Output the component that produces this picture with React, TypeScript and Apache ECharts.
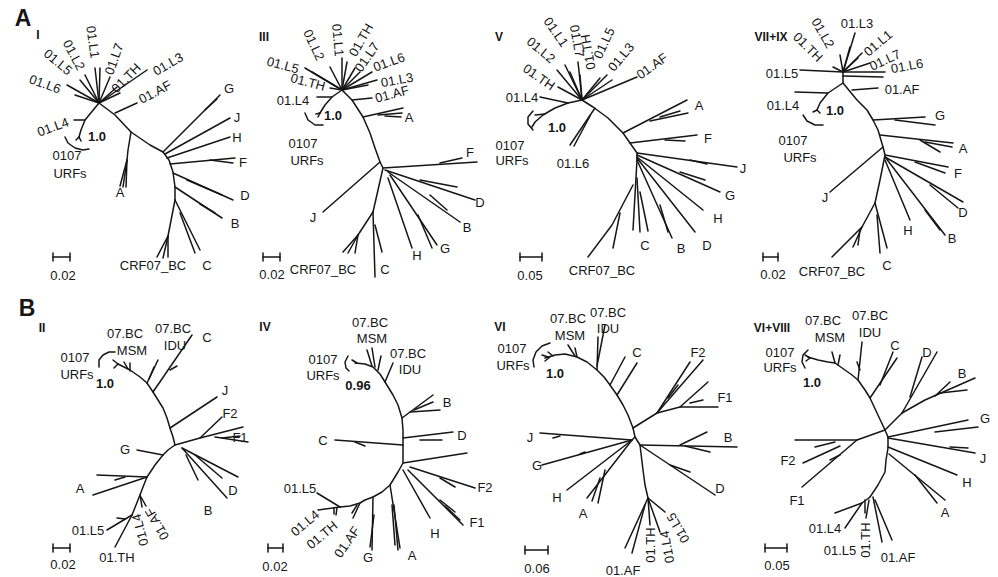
import React, { useEffect, useRef } from "react";
import * as echarts from "echarts";

type Pt = [number, number];
type Edge = Pt[];
// [text, x, y, rotationDeg (counter-clockwise), kind: 0 normal, 1 bold support, 2 panel title, 3 big letter]
type Label = [string, number, number, number?, number?];

// ---------- Panel A / I ----------
const edgesI: Edge[] = [
  [[99,103],[115,115],[131,132],[150,145],[163,152],[169,160],[173,172],[175,187],[175,200]],
  [[99,103],[67,85]],[[99,103],[75,95]],[[99,103],[80,80]],[[99,103],[85,75]],[[99,103],[95,68]],[[99,103],[100,68]],[[99,103],[110,77]],[[99,103],[117,87]],[[99,103],[147,70]],[[99,103],[120,93]],
  [[115,113],[137,103]],
  [[99,103],[85,120],[81,130],[79,137]],[[79,137],[76,140]],[[79,137],[81,141]],[[85,120],[74,120]],
  [[65,137],[68,143],[75,148],[83,150],[89,149]],
  [[131,132],[128,150],[127,160],[120,186]],[[127,160],[123,187]],[[127,160],[126,187]],
  [[163,152],[220,95]],[[205,110],[217,99]],
  [[165,154],[230,118]],
  [[167,158],[230,137]],
  [[170,164],[235,158]],[[210,160],[233,163]],
  [[173,173],[233,200]],[[187,180],[222,195]],
  [[175,187],[222,218]],[[200,204],[215,213]],
  [[175,200],[200,250]],[[180,213],[195,253]],
  [[175,200],[168,236]],[[168,236],[157,257]],[[168,236],[163,258]],[[168,236],[168,257]],
];
const labelsI: Label[] = [
  ["A",23,18,0,3],["I",38,35,0,2],
  ["01.L6",45,84,-20],["01.L5",58,62,-40],["01.L2",74,55,-62],["01.L1",93,42,-82],["01.L7",114,59,70],["01.TH",126,78,45],["01.L3",168,64,30],["01.AF",155,92,28],["01.L4",53,127,20],
  ["1.0",97,136,0,1],["0107",67,155],["URFs",70,173],
  ["G",229,88],["J",237,117],["H",237,137],["F",243,162],["D",245,195],["B",235,223],["C",207,265],["CRF07_BC",153,265],["A",120,192],["0.02",63,275],
];

// ---------- Panel III ----------
const edgesIII: Edge[] = [
  [[342,90],[352,100],[363,117],[370,133],[375,148],[380,162],[383,168],[378,190],[373,212]],
  [[342,90],[305,68]],[[342,90],[312,72]],[[342,90],[330,67]],[[342,90],[342,58]],[[342,90],[347,62]],[[342,90],[355,68]],[[342,90],[360,72]],[[342,90],[372,72]],[[342,90],[377,80]],[[342,90],[330,88]],[[342,90],[368,85]],
  [[352,100],[372,98]],
  [[342,90],[332,97],[325,105],[320,113]],[[320,113],[316,114]],[[320,113],[318,117]],[[332,97],[317,97]],
  [[305,113],[308,120],[315,125],[323,125]],
  [[363,117],[403,108]],[[378,115],[402,113]],[[385,116],[401,117]],
  [[380,162],[323,212]],
  [[383,168],[477,162]],[[440,163],[462,158]],
  [[385,170],[475,200]],[[420,180],[457,187]],
  [[388,172],[460,222]],[[430,195],[447,210]],
  [[390,175],[437,245]],[[418,215],[432,248]],
  [[388,178],[412,248]],
  [[373,212],[375,277]],[[375,225],[382,252]],
  [[373,212],[358,235]],[[358,235],[343,252]],[[358,235],[348,253]],[[358,235],[355,253]],
];
const labelsIII: Label[] = [
  ["III",264,37,0,2],["01.L5",283,65,-15],["01.L2",314,45,-65],["01.L1",338,40,-85],["01.TH",361,40,60],["01.L7",367,57,55],["01.L6",389,62,20],["01.L3",397,80,10],["01.TH",308,82,-15],["01.AF",392,94,15],["01.L4",293,100,0],
  ["1.0",333,115,0,1],["0107",303,143],["URFs",307,160],
  ["A",409,117],["F",470,152],["D",480,202],["B",467,227],["G",445,248],["H",417,255],["J",313,217],["C",385,269],["CRF07_BC",323,269],["0.02",272,274],
];

// ---------- Panel V ----------
const edgesV: Edge[] = [
  [[582,100],[593,107],[608,118],[623,133],[630,143],[637,153],[637,160]],
  [[582,100],[557,70]],[[582,100],[565,65]],[[582,100],[570,72]],[[582,100],[578,62]],[[582,100],[580,75]],[[582,100],[600,78]],[[582,100],[607,75]],[[582,100],[612,80]],[[582,100],[637,77]],[[582,100],[558,87]],
  [[582,100],[568,103],[555,108],[543,115],[535,122],[532,127]],[[568,103],[540,97]],[[545,114],[535,115]],
  [[533,111],[528,117],[528,124],[533,130]],
  [[595,108],[570,145]],[[590,116],[574,146]],
  [[623,133],[687,100]],[[650,121],[688,113]],[[660,117],[680,111]],
  [[630,143],[697,135]],[[665,140],[685,141]],
  [[637,153],[737,167]],[[690,160],[707,164]],
  [[637,155],[720,192]],[[680,172],[705,180]],
  [[637,157],[703,210]],
  [[637,158],[695,232]],
  [[637,160],[672,238]],[[660,205],[668,232]],
  [[637,160],[633,230]],[[637,178],[640,232]],[[640,192],[648,231]],
  [[633,185],[612,225],[588,257]],[[620,213],[613,248]],
];
const labelsV: Label[] = [
  ["V",499,37,0,2],["01.L2",541,50,-40],["01.L1",556,32,-55],["01.L7",577,41,-80],["01.TH",588,52,100],["01.L5",604,43,65],["01.L3",621,57,50],["01.AF",652,66,35],["01.TH",539,77,-35],["01.L4",522,97,0],
  ["1.0",557,127,0,1],["0107",510,145],["URFs",512,160],["01.L6",573,163],
  ["A",699,105],["F",708,138],["J",743,168],["G",730,195],["H",718,218],["D",707,245],["B",681,248],["C",645,245],["CRF07_BC",602,270],["0.05",530,275],
];

// ---------- Panel VII+IX ----------
const edgesVII: Edge[] = [
  [[843,72],[843,83],[857,100],[867,110],[873,120],[878,130],[883,147],[885,155],[880,180],[875,203]],
  [[843,72],[855,33]],[[843,72],[850,47]],[[843,72],[840,55]],[[843,72],[833,67]],[[843,72],[800,70]],[[843,72],[862,53]],[[843,72],[858,58]],[[843,72],[870,63]],[[843,72],[885,72]],[[843,76],[883,77]],
  [[852,90],[878,88]],
  [[843,83],[828,93],[820,103],[817,110]],[[817,110],[813,112]],[[817,110],[820,113]],[[828,93],[795,92]],
  [[803,115],[807,121],[815,125],[823,125]],
  [[873,120],[925,117]],[[895,120],[935,125]],
  [[880,135],[953,143]],[[920,140],[940,152]],[[925,142],[952,147]],
  [[885,155],[948,167]],[[915,162],[945,173]],
  [[885,157],[963,202]],[[930,185],[958,208]],
  [[885,157],[945,235]],[[925,210],[940,230]],
  [[885,160],[910,220]],
  [[883,147],[830,192]],
  [[875,203],[887,248]],[[877,215],[880,253]],
  [[875,203],[862,227],[832,257]],[[862,227],[853,247]],[[860,230],[858,245]],
];
const labelsVII: Label[] = [
  ["VII+IX",771,37,0,2],["01.L3",857,23],["01.L2",823,33,-60],["01.TH",808,47,-45],["01.L5",782,73],["01.L1",878,43,40],["01.L7",885,60,25],["01.L6",907,66,10],["01.AF",902,89],["01.L4",783,105],
  ["1.0",835,110,0,1],["0107",793,140],["URFs",800,157],
  ["G",940,115],["A",963,148],["F",958,173],["D",963,212],["B",952,238],["H",908,230],["J",825,197],["C",887,265],["CRF07_BC",832,271],["0.02",773,274],
];

// ---------- Panel B / II ----------
const edgesII: Edge[] = [
  [[118,364],[130,370],[140,377],[147,383],[153,392],[158,400],[163,408],[167,418],[170,428],[173,437],[175,445],[168,450],[163,455],[155,465],[147,477],[143,487],[140,495],[136,505],[132,515]],
  [[118,364],[113,360]],[[118,364],[114,368]],
  [[128,369],[124,362]],[[130,371],[130,363]],
  [[99,367],[99,360],[103,355],[109,352],[115,352]],
  [[147,383],[158,360]],[[149,379],[154,367]],
  [[153,392],[192,335]],[[170,370],[177,366]],
  [[170,428],[217,397]],
  [[175,445],[200,438],[222,417]],
  [[200,438],[243,427]],[[215,437],[248,442]],[[222,438],[240,436]],
  [[182,448],[238,477]],[[195,455],[222,478]],
  [[182,448],[227,498]],[[186,455],[198,480]],
  [[163,455],[137,450]],
  [[147,477],[97,475]],[[147,477],[93,495]],[[125,477],[115,480]],
  [[132,515],[107,530]],[[125,519],[117,518]],
  [[132,515],[115,547]],
  [[140,495],[142,507]],[[141,497],[146,506]],
];
const labelsII: Label[] = [
  ["B",27,308,0,3],["II",42,328,0,2],["07.BC",125,333],["MSM",132,350],["07.BC",173,328],["IDU",175,345],["0107",75,357],["URFs",77,374],["1.0",105,383,0,1],
  ["C",207,337],["J",225,390],["F2",230,413],["F1",240,437],["D",233,490],["B",208,510],["G",125,449],["A",80,488],
  ["01.L5",88,530],["01.TH",117,557],["01.L4",140,530,105],["01.AF",157,524,120],["0.02",63,564],
];

// ---------- Panel IV ----------
const edgesIV: Edge[] = [
  [[355,363],[365,364],[373,367],[380,374],[385,382],[393,395],[398,405],[402,418],[403,430],[403,445],[403,463],[398,472],[390,485],[382,492],[373,497],[365,500],[360,503],[350,506],[340,507]],
  [[357,363],[352,360]],
  [[372,366],[367,350]],[[375,367],[372,348]],[[378,370],[381,356]],
  [[348,356],[345,362],[346,368],[349,371]],
  [[385,382],[393,363]],
  [[402,418],[433,395]],[[410,412],[440,410]],[[414,410],[433,402]],
  [[403,438],[453,432]],[[420,440],[442,440]],
  [[403,445],[335,440]],[[355,442],[365,446]],
  [[403,463],[467,453]],
  [[410,467],[475,488]],[[440,478],[455,487]],
  [[408,470],[463,525]],[[440,500],[455,512]],[[445,506],[460,520]],
  [[403,470],[430,518]],
  [[390,485],[400,548]],[[394,505],[398,550]],[[392,505],[395,545]],
  [[373,497],[372,550]],[[374,515],[370,547]],
  [[360,503],[353,518]],[[357,505],[352,513]],
  [[340,507],[317,493]],[[340,507],[318,510]],[[337,508],[336,515]],[[334,508],[334,514]],
];
const labelsIV: Label[] = [
  ["IV",265,327,0,2],["07.BC",370,322],["MSM",372,338],["07.BC",408,353],["IDU",410,369],["0107",323,359],["URFs",323,375],["0.96",358,385,0,1],
  ["B",447,402],["D",462,435],["C",323,440],["F2",485,487],["F1",477,522],["H",435,533],["A",412,555],["G",368,557],
  ["01.L5",300,488],["01.L4",305,523,40],["01.TH",322,535,40],["01.AF",347,542,55],["0.02",275,566],
];

// ---------- Panel VI ----------
const edgesVI: Edge[] = [
  [[545,358],[555,355],[565,354],[577,357],[587,362],[597,370],[604,377],[610,385],[617,395],[623,405],[628,415],[633,428],[635,437],[640,445],[643,470],[645,485],[648,498]],
  [[548,357],[542,355]],[[550,357],[545,361]],[[553,356],[548,352]],
  [[575,356],[568,345]],[[577,357],[575,348]],
  [[550,343],[542,346],[536,352],[533,360],[534,367]],
  [[597,370],[598,337]],[[597,366],[605,325]],
  [[610,385],[625,357]],[[617,395],[637,363]],
  [[633,428],[657,413],[690,362]],[[657,413],[703,360]],[[668,398],[678,385]],
  [[657,413],[680,407],[708,382]],[[680,407],[718,407]],[[690,403],[703,400]],
  [[640,445],[737,447]],[[680,445],[707,432]],[[685,446],[710,452]],
  [[640,445],[715,495]],[[670,465],[690,472]],
  [[635,437],[632,440],[540,433]],[[560,436],[553,438]],
  [[632,440],[542,465]],[[580,454],[585,452]],
  [[632,440],[567,490]],
  [[632,440],[587,498]],[[605,470],[598,503]],[[600,478],[592,501]],
  [[648,498],[625,548]],[[645,505],[632,553]],
  [[648,498],[650,525]],
  [[648,498],[660,532]],
  [[648,498],[665,512]],
];
const labelsVI: Label[] = [
  ["VI",500,327,0,2],["07.BC",568,318],["MSM",570,335],["07.BC",608,312],["IDU",608,328],["0107",512,348],["URFs",513,365],["1.0",555,373,0,1],
  ["C",637,352],["F2",698,352],["F1",725,397],["B",728,437],["D",720,488],["J",530,437],["G",537,465],["H",557,497],["A",583,513],
  ["01.AF",623,570],["01.TH",650,545,90],["01.L4",667,547,100],["01.L5",678,528,120],["0.06",537,568],
];

// ---------- Panel VI+VIII ----------
const edgesVIII: Edge[] = [
  [[808,357],[818,360],[828,362],[835,363],[845,370],[852,375],[858,380],[865,390],[870,398],[877,413],[885,430],[888,437],[888,448],[886,460],[885,472],[878,485],[870,497]],
  [[810,358],[805,355]],[[810,358],[806,361]],
  [[835,363],[832,352]],[[838,365],[840,355]],
  [[808,350],[803,355],[802,362],[805,368]],
  [[858,380],[862,342]],[[860,370],[857,362]],
  [[870,398],[897,358]],[[880,385],[893,352]],
  [[885,430],[902,413],[937,352]],[[910,397],[922,357]],
  [[902,413],[925,400],[975,378]],[[940,393],[967,390]],[[935,396],[950,382]],
  [[888,437],[968,420]],[[935,432],[978,427]],
  [[888,438],[975,453]],[[950,447],[968,448]],
  [[888,447],[957,475]],
  [[889,454],[945,500]],[[915,475],[937,503]],
  [[885,430],[857,440],[795,440]],[[840,446],[803,463]],[[835,442],[815,447]],
  [[857,440],[802,487]],[[840,455],[830,460]],
  [[870,497],[862,503],[835,513]],[[862,503],[845,528]],[[865,500],[865,513]],
  [[869,500],[866,518]],
  [[873,497],[882,542]],[[875,500],[892,540]],
];
const labelsVIII: Label[] = [
  ["VI+VIII",772,328,0,2],["07.BC",823,320],["MSM",830,337],["07.BC",870,315],["IDU",870,332],["0107",780,352],["URFs",780,367],["1.0",812,382,0,1],
  ["C",895,345],["D",927,352],["B",962,373],["G",985,418],["J",983,458],["H",967,482],["A",945,512],["F2",788,460],["F1",797,500],
  ["01.L4",825,528],["01.L5",840,550],["01.TH",865,540,90],["01.AF",898,557],["0.05",777,565],
];

// scale bars: [x1, x2, y]
const scaleBars: [number, number, number][] = [
  [53,70,257],[263,280,257],[520,542,257],[763,778,257],
  [53,70,548],[268,283,548],[525,548,550],[765,787,548],
];

const allEdges: Edge[] = [
  ...edgesI, ...edgesIII, ...edgesV, ...edgesVII,
  ...edgesII, ...edgesIV, ...edgesVI, ...edgesVIII,
  ...scaleBars.flatMap(([a, b, y]) => [
    [[a, y], [b, y]] as Edge,
    [[a, y - 4], [a, y + 4]] as Edge,
    [[b, y - 4], [b, y + 4]] as Edge,
  ]),
];
const allLabels: Label[] = [
  ...labelsI, ...labelsIII, ...labelsV, ...labelsVII,
  ...labelsII, ...labelsIV, ...labelsVI, ...labelsVIII,
];

const INK = "#161616";
const FONT = "'Liberation Sans', Arial, Helvetica, sans-serif";

export default function App() {
  const ref = useRef<HTMLDivElement>(null);
  useEffect(() => {
    if (!ref.current) return;
    const chart = echarts.init(ref.current, undefined, { renderer: "svg" });
    chart.setOption({
      animation: false,
      backgroundColor: "#ffffff",
      grid: { left: 0, right: 0, top: 0, bottom: 0 },
      xAxis: { type: "value", min: 0, max: 998, show: false },
      yAxis: { type: "value", min: 0, max: 577, inverse: true, show: false },
      series: [
        {
          type: "lines",
          coordinateSystem: "cartesian2d",
          polyline: true,
          silent: true,
          lineStyle: { color: INK, width: 1.5, opacity: 1, cap: "round", join: "round" },
          data: allEdges.map((c) => ({ coords: c })),
        },
        {
          type: "custom",
          coordinateSystem: "cartesian2d",
          silent: true,
          clip: false,
          data: allLabels.map((l) => [l[1], l[2]]),
          renderItem: (params: any, api: any) => {
            const l = allLabels[params.dataIndex];
            const p = api.coord([api.value(0), api.value(1)]);
            const kind = l[4] || 0;
            const fontSize = kind === 3 ? 23 : kind === 2 ? 12 : 13;
            const fontWeight = kind === 0 ? "normal" : "bold";
            return {
              type: "text",
              x: p[0],
              y: p[1],
              rotation: ((l[3] || 0) * Math.PI) / 180,
              style: {
                text: l[0],
                fill: INK,
                fontSize,
                fontWeight,
                fontFamily: FONT,
                align: "center",
                verticalAlign: "middle",
              },
            };
          },
        },
      ],
    });
    return () => chart.dispose();
  }, []);
  return (
    <div
      ref={ref}
      style={{ position: "fixed", left: 0, top: 0, width: 998, height: 577, background: "#fff" }}
    />
  );
}
